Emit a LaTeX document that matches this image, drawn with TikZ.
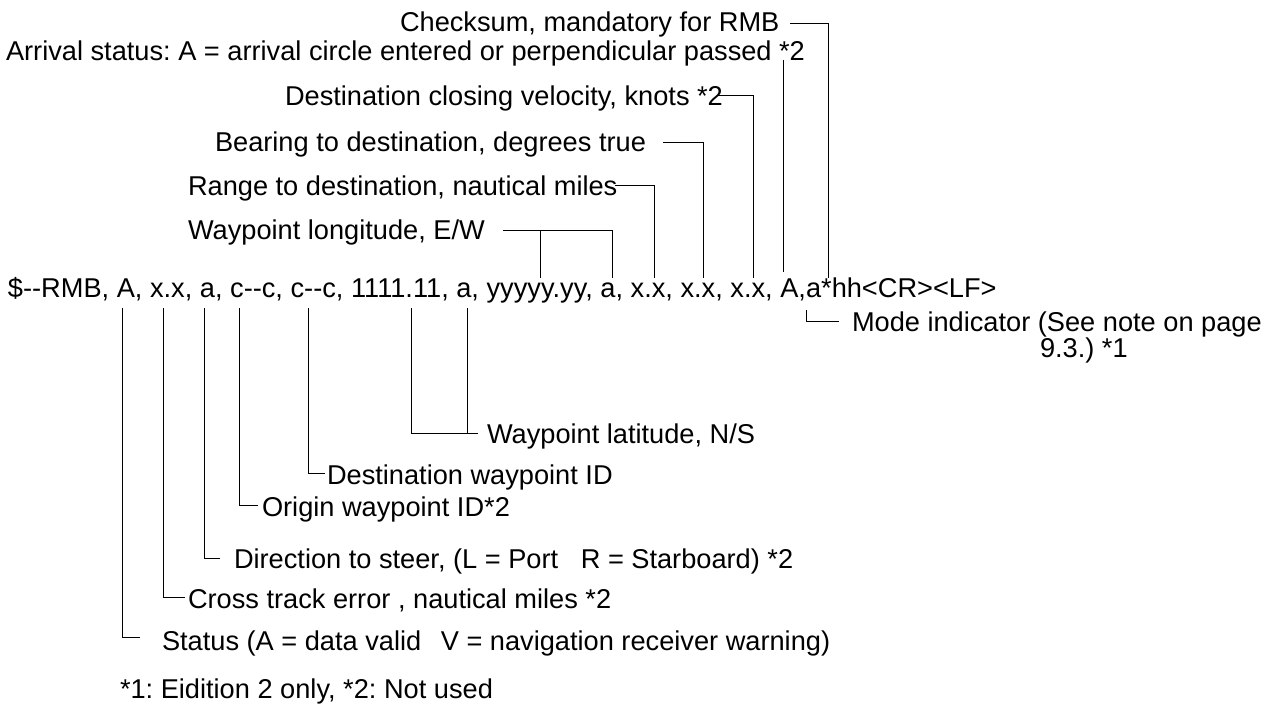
\documentclass[tikz,border=0pt]{standalone}
\usepackage{fontspec}
\setmainfont{Liberation Sans}
\frenchspacing
\begin{document}
\begin{tikzpicture}[x=1pt,y=-1pt,
  lbl/.style={anchor=base west, inner sep=0pt, outer sep=0pt, font=\fontsize{27.2}{32}\selectfont},
  conn/.style={line width=0.9pt, black}]
\useasboundingbox[fill=white] (0,0) rectangle (1267,709);
% labels above
\node[lbl] (chk) at (400,32) {Checksum, mandatory for RMB};
\node[lbl] (arr) at (6,61) {Arrival status: A = arrival circle entered or perpendicular passed *2};
\node[lbl] (dcv) at (285,106) {Destination closing velocity, knots *2};
\node[lbl] (brg) at (215,151) {Bearing to destination, degrees true};
\node[lbl] (rng) at (188,195) {Range to destination, nautical miles};
\node[lbl] (lon) at (188,239) {Waypoint longitude, E/W};
% sentence
\node[lbl] (sen) at (8,297) {\$-{}-RMB, A, x.x, a, c-{}-c, c-{}-c, 1111.11, a, yyyyy.yy, a, x.x, x.x, x.x, A,a*hh<CR><LF>};
% labels below
\node[lbl] (mode) at (852,331) {Mode indicator (See note on page};
\node[lbl] (mode2) at (1040,357) {9.3.) *1};
\node[lbl] (lat) at (487,443) {Waypoint latitude, N/S};
\node[lbl] (dst) at (327,484) {Destination waypoint ID};
\node[lbl] (org) at (262,516) {Origin waypoint ID*2};
\node[lbl] (dir) at (234,568) {Direction to steer, (L = Port\hspace{15pt} R = Starboard) *2};
\node[lbl] (xte) at (188,608) {Cross track error , nautical miles *2};
\node[lbl] (sts) at (162,650) {Status (A = data valid\hspace{12pt} V = navigation receiver warning)};
\node[lbl] (fn) at (120,698) {*1: Eidition 2 only, *2: Not used};
% tick points on the sentence
\coordinate (uLonA) at (540,278); \coordinate (uLonB) at (612,278);
\coordinate (uRng) at (654,278); \coordinate (uBrg) at (703,278);
\coordinate (uDcv) at (753,278); \coordinate (uArr) at (783,272);
\coordinate (uChk) at (828,278);
\coordinate (dSts) at (122,308); \coordinate (dXte) at (163,308);
\coordinate (dDir) at (204,308); \coordinate (dOrg) at (239,308);
\coordinate (dDst) at (308,308); \coordinate (dLatA) at (411,308);
\coordinate (dLatB) at (467,308); \coordinate (dMode) at (806,310);
% connectors above
\draw[conn] (503,230) -- (612,230) -- (uLonB);
\draw[conn] (540,230) -- (uLonA);
\draw[conn] (615,185) -- (654,185) -- (uRng);
\draw[conn] (663,142) -- (703,142) -- (uBrg);
\draw[conn] (718,95) -- (753,95) -- (uDcv);
\draw[conn] (783,60) -- (uArr);
\draw[conn] (790,23) -- (828,23) -- (uChk);
% connectors below
\draw[conn] (dMode) -- (806,321) -- (839,321);
\draw[conn] (dLatA) -- (411,433) -- (478,433);
\draw[conn] (dLatB) -- (467,433);
\draw[conn] (dDst) -- (308,473) -- (325,473);
\draw[conn] (dOrg) -- (239,505) -- (258,505);
\draw[conn] (dDir) -- (204,558) -- (220,558);
\draw[conn] (dXte) -- (163,597) -- (185,597);
\draw[conn] (dSts) -- (122,637) -- (140,637);
\end{tikzpicture}
\end{document}
